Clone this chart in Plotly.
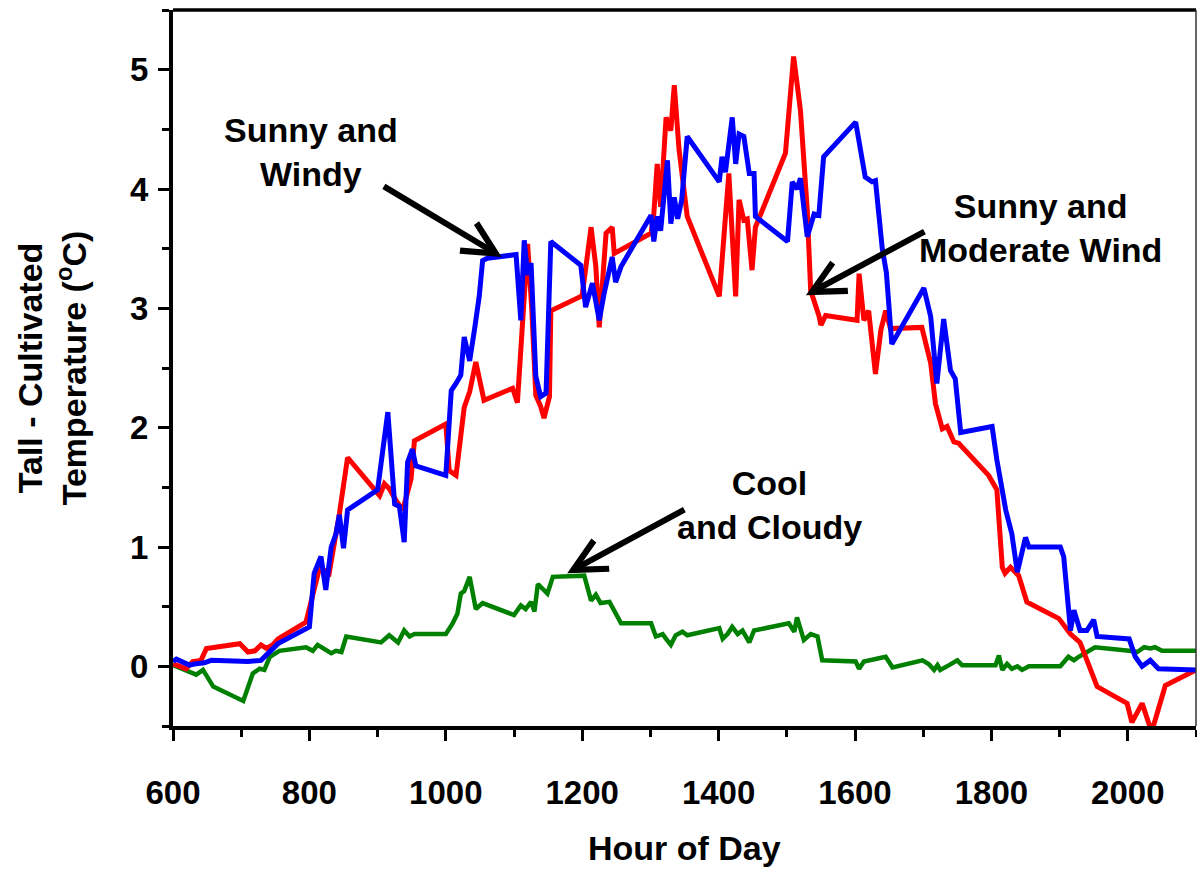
import plotly.graph_objects as go

# ---------------- data ----------------
red_x = [600, 619, 629, 641, 649, 698, 710, 720, 729, 737, 746, 754, 795, 803, 815, 829, 837, 844, 856,
         903, 910, 917, 927, 937, 949, 954, 1000, 1005, 1015, 1027, 1035, 1044, 1056, 1098, 1105, 1117,
         1120, 1126, 1132, 1139, 1144, 1152, 1154, 1198, 1200, 1213, 1220, 1225, 1235, 1244, 1247, 1301,
         1305, 1310, 1315, 1323, 1330, 1335, 1342, 1354, 1401, 1415, 1425, 1430, 1437, 1442, 1449, 1454,
         1498, 1510, 1520, 1530, 1535, 1547, 1550, 1557, 1603, 1606, 1613, 1620, 1630, 1638, 1645, 1652,
         1698, 1711, 1718, 1728, 1735, 1745, 1752, 1796, 1808, 1816, 1820, 1828, 1840, 1852, 1899, 1916,
         1930, 1955, 1999, 2006, 2021, 2035, 2055, 2100]
red_y = [0.02, -0.02, 0.04, 0.05, 0.15, 0.19, 0.12, 0.13, 0.18, 0.15, 0.18, 0.23, 0.37, 0.55, 0.83, 0.78,
         1.03, 1.28, 1.75, 1.43, 1.53, 1.49, 1.39, 1.31, 1.57, 1.89, 2.03, 1.64, 1.60, 2.17, 2.30, 2.55,
         2.23, 2.33, 2.21, 3.40, 3.54, 3.00, 2.27, 2.18, 2.08, 2.26, 2.98, 3.10, 3.11, 3.68, 3.35, 2.84,
         3.63, 3.68, 3.46, 3.63, 3.79, 4.21, 3.85, 4.60, 4.49, 4.87, 4.33, 3.77, 3.10, 4.13, 3.10, 3.91,
         3.74, 3.75, 3.32, 3.68, 4.30, 5.11, 4.66, 3.82, 3.15, 2.94, 2.86, 2.94, 2.90, 3.29, 2.90, 2.98,
         2.45, 2.82, 2.98, 2.83, 2.84, 2.54, 2.20, 1.99, 2.01, 1.88, 1.87, 1.60, 1.48, 0.83, 0.78, 0.83,
         0.76, 0.54, 0.40, 0.27, 0.20, -0.17, -0.31, -0.47, -0.31, -0.55, -0.16, -0.03]

blue_x = [600, 605, 624, 631, 646, 656, 710, 729, 754, 800, 807, 817, 824, 832, 839, 844, 850, 856, 900,
          915, 925, 932, 939, 944, 951, 956, 1000, 1008, 1015, 1022, 1027, 1035, 1042, 1049, 1054, 1061,
          1103, 1110, 1115, 1120, 1125, 1132, 1139, 1147, 1154, 1198, 1205, 1215, 1225, 1232, 1244, 1249,
          1257, 1301, 1305, 1310, 1315, 1325, 1330, 1335, 1340, 1346, 1354, 1401, 1405, 1410, 1420, 1425,
          1430, 1437, 1445, 1452, 1454, 1501, 1508, 1515, 1520, 1530, 1540, 1547, 1554, 1601, 1615, 1625,
          1630, 1637, 1640, 1646, 1654, 1701, 1711, 1720, 1730, 1740, 1747, 1755, 1801, 1808, 1821, 1830,
          1838, 1850, 1855, 1901, 1906, 1916, 1921, 1930, 1940, 1950, 1955, 2002, 2011, 2021, 2033, 2045,
          2100]
blue_y = [0.04, 0.06, 0.01, 0.02, 0.03, 0.05, 0.04, 0.05, 0.19, 0.33, 0.78, 0.92, 0.64, 1.00, 1.11, 1.27,
          0.99, 1.31, 1.48, 2.13, 1.36, 1.34, 1.04, 1.71, 1.82, 1.68, 1.60, 2.31, 2.37, 2.44, 2.76, 2.56,
          2.82, 3.10, 3.40, 3.42, 3.45, 2.90, 3.57, 3.28, 3.38, 2.43, 2.26, 2.29, 3.56, 3.36, 3.01, 3.21,
          2.90, 3.12, 3.43, 3.22, 3.35, 3.78, 3.56, 3.77, 3.65, 4.24, 3.71, 3.93, 3.75, 3.91, 4.44, 4.06,
          4.27, 4.14, 4.60, 4.21, 4.46, 4.44, 4.13, 4.13, 3.77, 3.56, 4.06, 4.00, 4.09, 3.60, 3.79, 3.78,
          4.27, 4.56, 4.10, 4.06, 4.07, 3.65, 3.50, 3.30, 2.70, 3.17, 2.93, 2.37, 2.91, 2.48, 2.41, 1.96,
          2.01, 1.73, 1.31, 1.11, 0.79, 1.08, 1.00, 1.00, 0.92, 0.30, 0.47, 0.30, 0.30, 0.39, 0.25, 0.23,
          0.08, 0.00, 0.05, -0.02, -0.03]

green_x = [600, 620, 634, 644, 659, 703, 713, 717, 727, 734, 742, 756, 795, 805, 812, 825, 832, 839, 847,
           854, 905, 917, 930, 939, 947, 954, 1000, 1010, 1017, 1022, 1027, 1035, 1044, 1054, 1100, 1110,
           1117, 1125, 1130, 1135, 1149, 1157, 1203, 1213, 1220, 1227, 1240, 1257, 1301, 1308, 1318, 1323,
           1330, 1337, 1347, 1354, 1401, 1406, 1413, 1420, 1428, 1435, 1445, 1452, 1503, 1511, 1515, 1525,
           1535, 1545, 1552, 1601, 1606, 1613, 1630, 1645, 1655, 1699, 1708, 1716, 1721, 1725, 1738, 1750,
           1757, 1806, 1811, 1816, 1823, 1830, 1838, 1845, 1855, 1901, 1913, 1921, 1928, 1940, 1952, 2002,
           2014, 2024, 2033, 2040, 2050, 2100]
green_y = [0.01, -0.04, -0.07, -0.03, -0.17, -0.29, -0.12, -0.06, -0.02, -0.03, 0.08, 0.13, 0.16, 0.13,
           0.18, 0.13, 0.11, 0.13, 0.12, 0.25, 0.20, 0.26, 0.20, 0.30, 0.25, 0.27, 0.27, 0.36, 0.44, 0.61,
           0.63, 0.75, 0.48, 0.53, 0.43, 0.51, 0.48, 0.54, 0.46, 0.69, 0.61, 0.75, 0.76, 0.55, 0.60, 0.53,
           0.54, 0.36, 0.36, 0.25, 0.27, 0.23, 0.18, 0.26, 0.29, 0.26, 0.32, 0.23, 0.27, 0.33, 0.27, 0.30,
           0.20, 0.30, 0.36, 0.29, 0.41, 0.22, 0.27, 0.25, 0.05, 0.04, -0.02, 0.04, 0.06, 0.08, -0.01, 0.05,
           0.02, -0.03, 0.01, -0.03, 0.01, 0.05, 0.01, 0.01, 0.09, -0.03, 0.02, -0.02, 0.00, -0.03, 0.00,
           0.00, 0.08, 0.05, 0.08, 0.12, 0.16, 0.13, 0.12, 0.16, 0.15, 0.16, 0.13, 0.13]

x_ticks = [600, 800, 1000, 1200, 1400, 1600, 1800, 2000]
y_ticks = [0, 1, 2, 3, 4, 5]

# annotation labels: (text, x, y) and arrows: (tail x, tail y, tip x, tip y)
labels = [("Sunny and<br>Windy", 803, 4.31),
          ("Sunny and<br>Moderate Wind", 1872, 3.67),
          ("Cool<br>and Cloudy", 1475, 1.35)]
arrows = [(907, 4.03, 1082, 3.43),
          (1704, 3.65, 1528, 3.11),
          (1352, 1.32, 1178, 0.78)]

FONT = "Liberation Sans, Arial, sans-serif"

fig = go.Figure()
fig.add_trace(go.Scatter(x=green_x, y=green_y, mode="lines",
                         line=dict(color="#008000", width=4.5), showlegend=False))
fig.add_trace(go.Scatter(x=red_x, y=red_y, mode="lines",
                         line=dict(color="#FF0000", width=5), showlegend=False))
fig.add_trace(go.Scatter(x=blue_x, y=blue_y, mode="lines",
                         line=dict(color="#0000FF", width=5), showlegend=False))

annotations = []
for text, x, y in labels:
    annotations.append(dict(text=text, x=x, y=y, xref="x", yref="y", showarrow=False,
                            xanchor="center", yanchor="middle", align="center",
                            font=dict(family=FONT, size=34, color="black", weight="bold")))
for tx, ty, hx, hy in arrows:
    annotations.append(dict(text="", x=hx, y=hy, ax=tx, ay=ty, xref="x", yref="y",
                            axref="x", ayref="y", showarrow=True, arrowhead=5,
                            arrowsize=1.05, arrowwidth=6, arrowcolor="black", standoff=0))
annotations.append(dict(text="Tall - Cultivated<br>Temperature (<sup>o</sup>C)",
                        x=-0.118, y=0.5, xref="paper", yref="paper", showarrow=False,
                        textangle=-90, xanchor="center", yanchor="middle", align="center",
                        font=dict(family=FONT, size=34, color="black", weight="bold")))
annotations.append(dict(text="Hour of Day", x=0.5, y=-0.170, xref="paper", yref="paper",
                        showarrow=False, xanchor="center", yanchor="middle",
                        font=dict(family=FONT, size=34, color="black", weight="bold")))

axis_common = dict(showline=True, linewidth=4, linecolor="black", ticks="outside",
                   ticklen=11, tickwidth=3, tickcolor="black", showgrid=False, zeroline=False,
                   tickfont=dict(family=FONT, size=33, color="black", weight="bold"))

fig.update_layout(
    width=1197, height=869,
    margin=dict(l=173, r=1, t=10, b=143),
    paper_bgcolor="white", plot_bgcolor="white",
    xaxis=dict(range=[600, 2100], tickvals=x_ticks, ticktext=[str(v) for v in x_ticks],
               ticklabelstandoff=23,
               minor=dict(ticks="outside", dtick=100, ticklen=7, tickwidth=3, tickcolor="black",
                          showgrid=False),
               **axis_common),
    yaxis=dict(range=[-0.5, 5.5], tickvals=y_ticks, ticktext=[str(v) for v in y_ticks],
               ticklabelstandoff=3,
               minor=dict(ticks="outside", dtick=0.5, ticklen=7, tickwidth=3, tickcolor="black",
                          showgrid=False),
               **axis_common),
    annotations=annotations,
    shapes=[dict(type="line", xref="paper", yref="paper", x0=0, x1=1, y0=1, y1=1,
                 line=dict(color="black", width=3.5)),
            dict(type="line", xref="paper", yref="paper", x0=1, x1=1, y0=0, y1=1,
                 line=dict(color="#333333", width=1.5))],
)

fig.write_html("out.html")
